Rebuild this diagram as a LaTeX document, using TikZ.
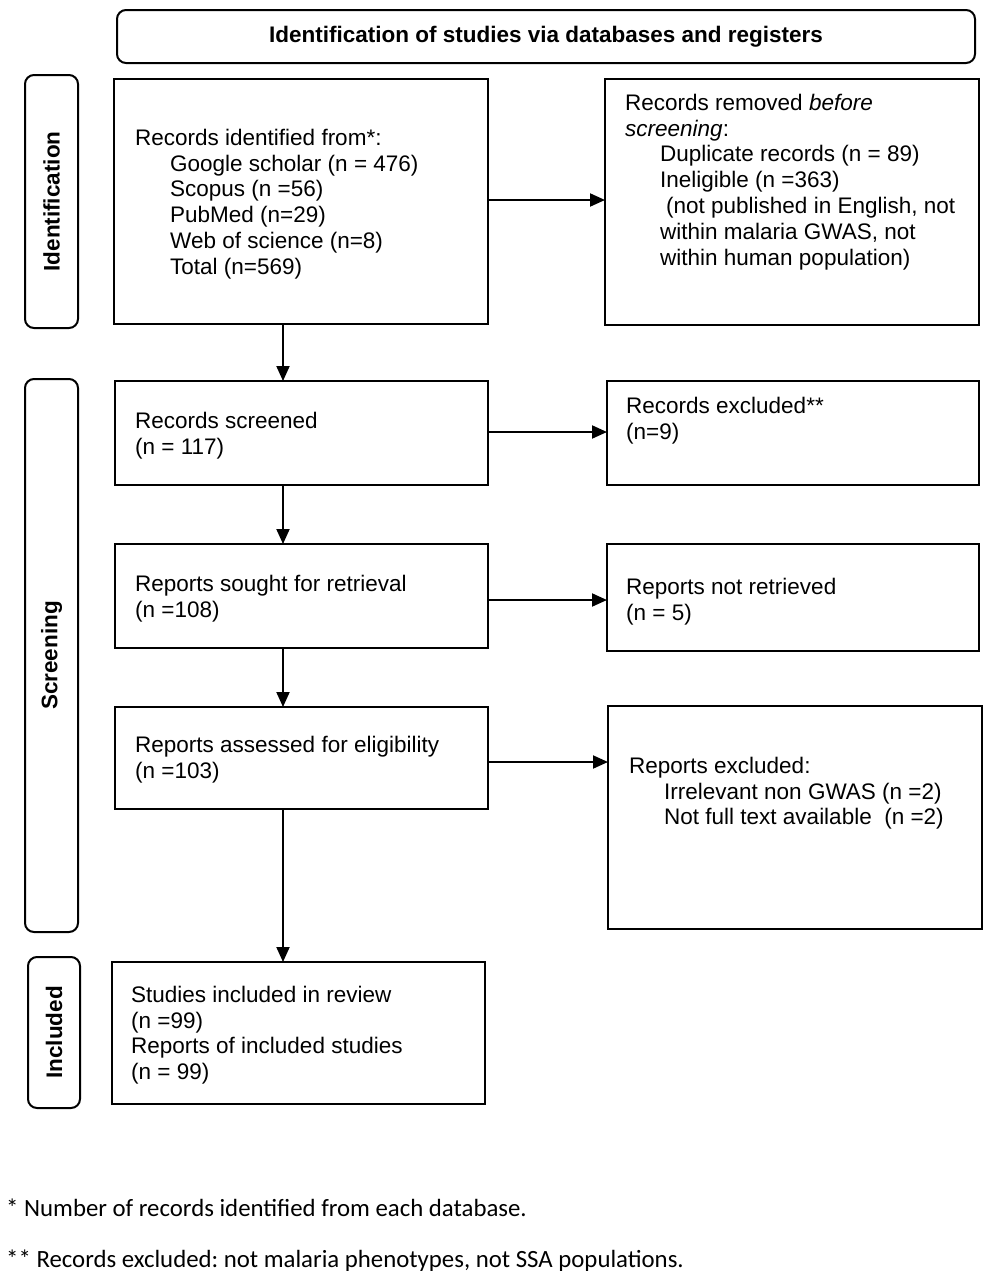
\documentclass[tikz,border=0pt]{standalone}
\usepackage{fontspec}
\setmainfont{Liberation Sans}
\newfontfamily\notefont{Carlito}
\usetikzlibrary{arrows.meta,calc}
\newcommand{\ind}{\hspace*{35pt}}
\newcommand{\fl}{\rule{0pt}{18pt}}
\frenchspacing
\begin{document}
\begin{tikzpicture}[x=1pt,y=-1pt,
  box/.style={draw,line width=2.4pt,anchor=north west,inner sep=0pt,outer sep=0pt},
  sidebox/.style={draw,line width=2pt,rounded corners=9pt,anchor=north west,inner sep=0pt,outer sep=0pt},
  txt/.style={anchor=north west,inner sep=0pt,align=left,font=\fontsize{22.5}{25.8}\selectfont},
  side/.style={rotate=90,inner sep=0pt,font=\fontsize{22.5}{26}\selectfont\bfseries},
  note/.style={anchor=base west,inner sep=0pt,font=\notefont\fontsize{24.8}{28}\selectfont},
  arr/.style={line width=2pt,-{Triangle[length=15pt,width=13pt]}}]
\useasboundingbox[fill=white] (0,0) rectangle (991,1280);
% header
\node[sidebox,minimum width=858pt,minimum height=53pt] (head) at (117,10) {};
\node[inner sep=0pt,font=\fontsize{22.5}{26}\selectfont\bfseries] (headtxt) at (head.center) {Identification of studies via databases and registers};
% side labels
\node[sidebox,minimum width=53pt,minimum height=253pt] (sid) at (25,75) {};
\node[side] (sidt) at (sid.center) {Identification};
\node[sidebox,minimum width=53pt,minimum height=553pt] (sscr) at (25,379) {};
\node[side] (sscrt) at (sscr.center) {Screening};
\node[sidebox,minimum width=52pt,minimum height=151pt] (sinc) at (28,957) {};
\node[side] (sinct) at (sinc.center) {Included};
% boxes
\node[box,minimum width=374pt,minimum height=245pt] (b1) at (114,79) {};
\node[box,minimum width=374pt,minimum height=246pt] (b2) at (605,79) {};
\node[box,minimum width=373pt,minimum height=104pt] (b3) at (115,381) {};
\node[box,minimum width=372pt,minimum height=104pt] (b4) at (607,381) {};
\node[box,minimum width=373pt,minimum height=104pt] (b5) at (115,544) {};
\node[box,minimum width=372pt,minimum height=107pt] (b6) at (607,544) {};
\node[box,minimum width=373pt,minimum height=102pt] (b7) at (115,707) {};
\node[box,minimum width=374pt,minimum height=223pt] (b8) at (608,706) {};
\node[box,minimum width=373pt,minimum height=142pt] (b9) at (112,962) {};
% texts
\node[txt] (t1) at (135,127) {\fl Records identified from*:\\
\ind Google scholar (n = 476)\\
\ind Scopus (n =56)\\
\ind PubMed (n=29)\\
\ind Web of science (n=8)\\
\ind Total (n=569)};
\node[txt] (t2) at (625,92) {\fl Records removed \textit{before}\\
\textit{screening}:\\
\ind Duplicate records (n = 89)\\
\ind Ineligible (n =363)\\
\hspace*{41pt}(not published in English, not\\
\ind within malaria GWAS, not\\
\ind within human population)};
\node[txt] (t3) at (135,410) {\fl Records screened\\(n = 117)};
\node[txt] (t4) at (626,395) {\fl Records excluded**\\(n=9)};
\node[txt] (t5) at (135,573) {\fl Reports sought for retrieval\\(n =108)};
\node[txt] (t6) at (626,576) {\fl Reports not retrieved\\(n = 5)};
\node[txt] (t7) at (135,734) {\fl Reports assessed for eligibility\\(n =103)};
\node[txt] (t8) at (629,755) {\fl Reports excluded:\\
\ind Irrelevant non GWAS (n =2)\\
\ind Not full text available\ \ (n =2)};
\node[txt] (t9) at (131,984) {\fl Studies included in review\\(n =99)\\Reports of included studies\\(n = 99)};
% footnotes
\node[note] (n1) at (6,1216) {* Number of records identified from each database.};
\node[note] (n2) at (6,1267) {** Records excluded: not malaria phenotypes, not SSA populations.};
% connectors
\coordinate (spine) at (283,0);
\draw[arr] (b1.south -| spine) -- (b3.north -| spine);
\draw[arr] (b3.south -| spine) -- (b5.north -| spine);
\draw[arr] (b5.south -| spine) -- (b7.north -| spine);
\draw[arr] (b7.south -| spine) -- (b9.north -| spine);
\coordinate (y1) at (0,200);
\coordinate (y2) at (0,432);
\coordinate (y3) at (0,600);
\coordinate (y4) at (0,762);
\draw[arr] (b1.east |- y1) -- (b2.west |- y1);
\draw[arr] (b3.east |- y2) -- (b4.west |- y2);
\draw[arr] (b5.east |- y3) -- (b6.west |- y3);
\draw[arr] (b7.east |- y4) -- (b8.west |- y4);
\end{tikzpicture}
\end{document}
